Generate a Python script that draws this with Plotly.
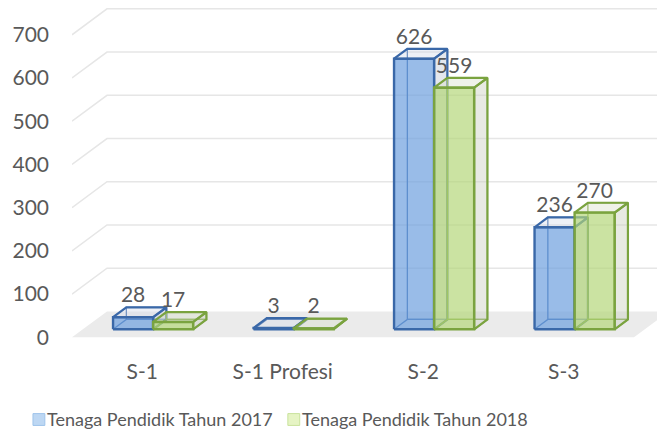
import plotly.graph_objects as go

categories = ['S-1', 'S-1 Profesi', 'S-2', 'S-3']
tahun_2017 = [28, 3, 626, 236]
tahun_2018 = [17, 2, 559, 270]
series_names = ['Tenaga Pendidik Tahun 2017', 'Tenaga Pendidik Tahun 2018']
y_ticks = [0, 100, 200, 300, 400, 500, 600, 700]

FONT = 'Lato'
TXT = '#595959'
# oblique "3D" depth, in axis units
DX = 0.249   # category units for full floor depth
DY = 60.0    # value units for full floor depth
Z0, Z1 = 0.31, 0.69  # bar front / back depth
BW = 0.285   # bar width (category units)

styles = [
    dict(edge='#3A68A8', front='rgba(110,160,222,0.70)', side='rgba(195,202,215,0.45)',
         top='rgba(210,218,232,0.40)', leg_fill='#bdd7f3', leg_edge='#9ec3ea'),
    dict(edge='#7AA33F', front='rgba(178,214,118,0.68)', side='rgba(205,208,192,0.45)',
         top='rgba(215,222,200,0.40)', leg_fill='#e6f4c4', leg_edge='#c9e29c'),
]


def proj(x, y, z):
    return x + z * DX, y + z * DY


def poly(pts, fill, line, width):
    xs, ys = [], []
    for p in pts + [pts[0]]:
        px, py = proj(*p)
        xs.append(px)
        ys.append(py)
    return go.Scatter(x=xs, y=ys, mode='lines', fill='toself' if fill else None,
                      fillcolor=fill, line=dict(color=line, width=width),
                      hoverinfo='skip', showlegend=False)


fig = go.Figure()

# floor
x_lo, x_hi = -0.5, len(categories) - 0.5
fig.add_trace(poly([(x_lo, 0, 0), (x_hi, 0, 0), (x_hi, 0, 1), (x_lo, 0, 1)],
                   '#ebebeb', 'rgba(0,0,0,0)', 0))

# gridlines: slanted part on the left, then along the back wall
for t in y_ticks[1:]:
    a = proj(x_lo, t, 0)
    b = proj(x_lo, t, 1)
    c = proj(x_hi + 0.3, t, 1)
    fig.add_trace(go.Scatter(x=[a[0], b[0], c[0]], y=[a[1], b[1], c[1]], mode='lines',
                             line=dict(color='#e6e6e6', width=1.5),
                             hoverinfo='skip', showlegend=False))

label_x, label_y, label_t = [], [], []
for i, cat in enumerate(categories):
    for s, vals in enumerate([tahun_2017, tahun_2018]):
        v = vals[i]
        st = styles[s]
        xl = i - BW + s * BW
        xr = xl + BW
        # hidden faces
        fig.add_trace(poly([(xl, 0, Z1), (xr, 0, Z1), (xr, v, Z1), (xl, v, Z1)], None, st['edge'], 1.3))
        fig.add_trace(poly([(xl, 0, Z0), (xr, 0, Z0), (xr, 0, Z1), (xl, 0, Z1)], None, st['edge'], 1.3))
        # right side and top
        fig.add_trace(poly([(xr, 0, Z0), (xr, 0, Z1), (xr, v, Z1), (xr, v, Z0)], st['side'], st['edge'], 2.2))
        fig.add_trace(poly([(xl, v, Z0), (xr, v, Z0), (xr, v, Z1), (xl, v, Z1)], st['top'], st['edge'], 2.2))
        # front
        fig.add_trace(poly([(xl, 0, Z0), (xr, 0, Z0), (xr, v, Z0), (xl, v, Z0)], st['front'], st['edge'], 2.4))
        label_x.append((xl + xr) / 2 + Z0 * DX)
        label_y.append(v + Z1 * DY)
        label_t.append(str(v))

fig.add_trace(go.Scatter(x=label_x, y=label_y, text=label_t, mode='text',
                         textposition='top center',
                         textfont=dict(family=FONT, size=21, color=TXT),
                         hoverinfo='skip', showlegend=False))

# legend drawn by hand
leg_sq = [-0.0658, 0.364]
for s, name in enumerate(series_names):
    x0 = leg_sq[s]
    fig.add_shape(type='rect', xref='paper', yref='paper',
                  x0=x0, x1=x0 + 0.02, y0=-0.235, y1=-0.2,
                  fillcolor=styles[s]['leg_fill'], line=dict(color=styles[s]['leg_edge'], width=1))
    fig.add_annotation(xref='paper', yref='paper', x=x0 + 0.025, y=-0.217,
                       text=name, showarrow=False, xanchor='left', yanchor='middle',
                       xshift=-3,
                       font=dict(family=FONT, size=18, color=TXT))

fig.update_layout(
    width=657, height=434,
    margin=dict(l=64, r=0, t=0, b=95.5, autoexpand=False),
    paper_bgcolor='white', plot_bgcolor='white',
    showlegend=False,
    xaxis=dict(range=[x_lo, x_lo + 593 / 140.5], tickvals=list(range(len(categories))),
               ticktext=categories, showgrid=False, zeroline=False, showline=False,
               ticks='', ticklabelstandoff=11,
               tickfont=dict(family=FONT, size=21, color=TXT), fixedrange=True),
    yaxis=dict(range=[-20, 762], tickvals=y_ticks, showgrid=False, zeroline=False,
               showline=False, ticks='', ticklabelstandoff=22,
               tickfont=dict(family=FONT, size=21, color=TXT), fixedrange=True),
)

fig.write_html("out.html")
